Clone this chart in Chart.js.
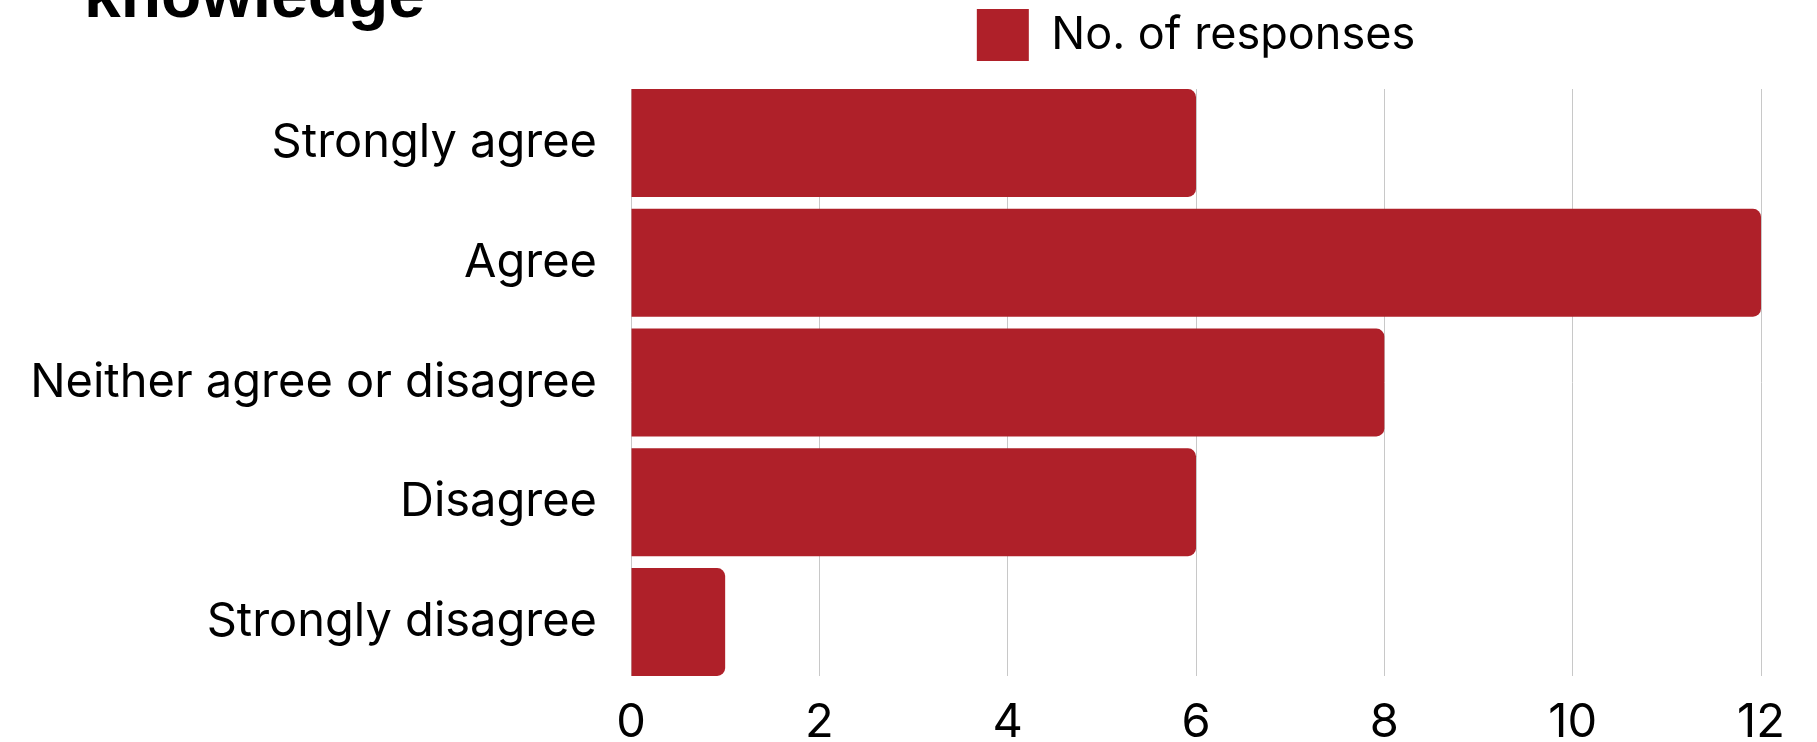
<!DOCTYPE html>
<html>
<head>
<meta charset="utf-8">
<script src="https://cdn.jsdelivr.net/npm/chart.js@4"></script>
<style>
  html, body { margin: 0; padding: 0; background: #fff; }
  #wrap { width: 1817px; height: 742px; position: relative; }
</style>
</head>
<body>
<div id="wrap"><canvas id="chart"></canvas></div>
<script>
// data
const categories = ['Strongly agree', 'Agree', 'Neither agree or disagree', 'Disagree', 'Strongly disagree'];
const responses = [6, 12, 8, 6, 1];
const seriesName = 'No. of responses';
const xTickMax = 12;
const xTickStep = 2;
const titleText = 'knowledge';

const barColor = '#af2029';
const labelFont = { family: 'Inter', size: 47 };

// title is cut off at the top in the original, only its last line shows
const titlePlugin = {
  id: 'cutTitle',
  afterDraw(chart) {
    const ctx = chart.ctx;
    ctx.save();
    ctx.font = 'bold 66px "Liberation Sans"';
    ctx.fillStyle = '#000';
    ctx.textBaseline = 'alphabetic';
    ctx.fillText(titleText, 84, 17);
    ctx.restore();
  }
};

new Chart(document.getElementById('chart'), {
  type: 'bar',
  data: {
    datasets: [{
      label: seriesName,
      data: responses.map((v, i) => ({ x: v, y: i })),
      backgroundColor: barColor,
      borderRadius: 8,
      barPercentage: 0.9,
      categoryPercentage: 1
    }]
  },
  options: {
    indexAxis: 'y',
    responsive: true,
    maintainAspectRatio: false,
    animation: false,
    layout: { padding: { top: 0, right: 56, bottom: 0, left: 0 } },
    plugins: {
      tooltip: { enabled: false },
      legend: {
        position: 'top',
        fullSize: false,
        labels: {
          color: '#000',
          font: { family: 'Inter', size: 45 },
          boxWidth: 52,
          boxHeight: 52,
          padding: 9
        }
      }
    },
    scales: {
      x: {
        type: 'linear',
        position: 'bottom',
        min: 0,
        max: xTickMax,
        grid: { color: '#c8c8c8', lineWidth: 1, drawTicks: false },
        border: { display: false },
        ticks: { stepSize: xTickStep, color: '#000', font: labelFont, padding: 19 },
        afterFit: s => { s.height = 66; }
      },
      // empty axis, only keeps the gap between legend and plot
      xTop: {
        type: 'linear',
        position: 'top',
        axis: 'x',
        min: 0,
        max: xTickMax,
        grid: { display: false },
        border: { display: false },
        ticks: { display: false },
        afterFit: s => { s.height = 18; }
      },
      y: {
        type: 'linear',
        reverse: true,
        offset: false,
        bounds: 'data',
        min: -0.451,
        max: categories.length - 1 + 0.451,
        grid: { display: false, drawTicks: false, offset: false },
        border: { display: false },
        afterBuildTicks: s => { s.ticks = categories.map((c, i) => ({ value: i })); },
        ticks: {
          autoSkip: false,
          color: '#000',
          font: labelFont,
          padding: 34,
          callback: v => categories[v] ?? ''
        },
        afterFit: s => { s.width = 631; }
      }
    }
  },
  plugins: [titlePlugin]
});
</script>
</body>
</html>
